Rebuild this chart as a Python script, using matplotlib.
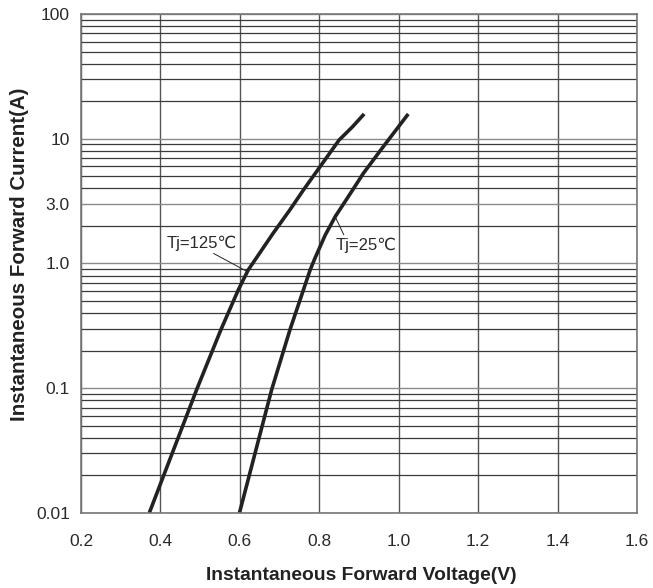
import numpy as np
import matplotlib
matplotlib.use("Agg")
import matplotlib.pyplot as plt
from matplotlib.ticker import FixedLocator, NullFormatter, LogLocator

plt.rcParams['font.family'] = ['Liberation Sans', 'DejaVu Sans']

# forward characteristics
v_125 = [0.372, 0.491, 0.552, 0.596, 0.621, 0.641, 0.684, 0.726, 0.760, 0.802, 0.850, 0.884, 0.913]
i_125 = [0.01, 0.097, 0.293, 0.613, 0.887, 1.10, 1.75, 2.69, 3.88, 5.97, 9.77, 12.5, 15.8]

v_25 = [0.599, 0.680, 0.726, 0.760, 0.777, 0.789, 0.815, 0.840, 0.873, 0.911, 0.961, 1.024]
i_25 = [0.01, 0.097, 0.293, 0.613, 0.887, 1.10, 1.69, 2.37, 3.43, 5.28, 8.63, 15.8]

x_ticks = [0.2, 0.4, 0.6, 0.8, 1.0, 1.2, 1.4, 1.6]
y_ticks = [0.01, 0.1, 1.0, 3.0, 10, 100]
y_labels = ["0.01", "0.1", "1.0", "3.0", "10", "100"]

fig = plt.figure(figsize=(6.53, 5.88), dpi=100)
ax = fig.add_axes([0.124, 0.1276, 0.8515, 0.8486])

ax.set_yscale('log')
ax.set_xlim(0.2, 1.6)
ax.set_ylim(0.01, 100)

# grid
ax.yaxis.set_major_locator(FixedLocator(y_ticks))
ax.yaxis.set_minor_locator(LogLocator(base=10, subs=np.arange(2, 10)))
ax.yaxis.set_minor_formatter(NullFormatter())
ax.set_yticklabels(y_labels)
ax.set_xticks(x_ticks)
ax.set_xticklabels([f"{t:.1f}" for t in x_ticks])

ax.grid(which='major', axis='y', color='#8a8a8a', linewidth=1.0)
ax.grid(which='minor', axis='y', color='#3a3a3a', linewidth=0.9)
ax.grid(which='major', axis='x', color='#555555', linewidth=1.0)
ax.set_axisbelow(True)

for s in ax.spines.values():
    s.set_color('#777777')
    s.set_linewidth(1.2)

ax.tick_params(which='both', length=0, labelsize=12.5, colors='#2a2a2a')
ax.tick_params(axis='x', pad=15)
ax.tick_params(axis='y', pad=8)

ax.plot(v_125, i_125, color='#222222', linewidth=2.6, solid_capstyle='butt',
        solid_joinstyle='round')
ax.plot(v_25, i_25, color='#222222', linewidth=2.6, solid_capstyle='butt',
        solid_joinstyle='round')

ax.annotate('Tj=125℃', xy=(0.619, 0.86), xytext=(0.415, 1.46),
            fontsize=12, color='#2a2a2a', va='center', ha='left',
            arrowprops=dict(arrowstyle='-', color='#222222', lw=0.7,
                            shrinkA=0, shrinkB=0, relpos=(0.6, 0.0)))
ax.annotate('Tj=25℃', xy=(0.838, 2.45), xytext=(0.842, 1.4),
            fontsize=12, color='#2a2a2a', va='center', ha='left',
            arrowprops=dict(arrowstyle='-', color='#222222', lw=0.7,
                            shrinkA=0, shrinkB=0, relpos=(0.15, 1.0)))

ax.set_xlabel('Instantaneous Forward Voltage(V)', fontsize=13.9, fontweight='bold',
              color='#222222', labelpad=13)
ax.set_ylabel('Instantaneous Forward Current(A)', fontsize=14.8, fontweight='bold',
              color='#222222', labelpad=5)
ax.xaxis.label.set_x(0.505)
ax.yaxis.label.set_y(0.519)

fig.savefig('out.png', dpi=100)
